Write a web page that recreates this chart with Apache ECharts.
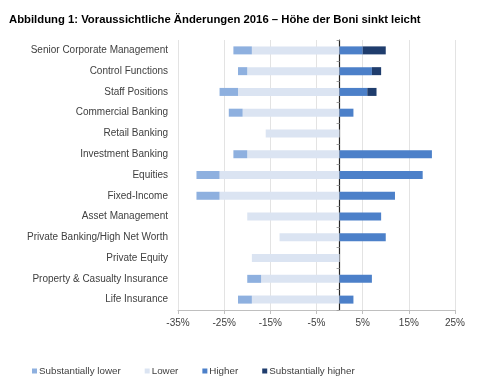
<!DOCTYPE html>
<html>
<head>
<meta charset="utf-8">
<script src="https://cdn.jsdelivr.net/npm/echarts@6/dist/echarts.min.js"></script>
<style>html,body{margin:0;padding:0;background:#fff}#c{width:500px;height:388px}</style>
</head>
<body>
<div id="c"></div>
<script>
var titleText = 'Abbildung 1: Voraussichtliche Änderungen 2016 – Höhe der Boni sinkt leicht';
var categories = ['Senior Corporate Management','Control Functions','Staff Positions','Commercial Banking','Retail Banking','Investment Banking','Equities','Fixed-Income','Asset Management','Private Banking/High Net Worth','Private Equity','Property & Casualty Insurance','Life Insurance'];
var substantiallyLower = [-4,-2,-4,-3,0,-3,-5,-5,0,0,0,-3,-3];
var lower = [-19,-20,-22,-21,-16,-20,-26,-26,-20,-13,-19,-17,-19];
var higher = [5,7,6,3,0,20,18,12,9,10,0,7,3];
var substantiallyHigher = [5,2,2,0,0,0,0,0,0,0,0,0,0];
var legendNames = ['Substantially lower','Lower','Higher','Substantially higher'];
var xMin = -35, xMax = 25, xStep = 10;

var font = 'Liberation Sans, Arial, sans-serif';
var chart = echarts.init(document.getElementById('c'), null, {renderer:'canvas'});
function bar(name, data, color){
  return {name:name, type:'bar', stack:'all', data:data, barWidth:8,
    itemStyle:{color:color}, yAxisIndex:0, animation:false};
}
chart.setOption({
  backgroundColor:'#fff',
  animation:false,
  title:{text:titleText, left:4, top:9, textStyle:{fontFamily:font, fontSize:11.3, fontWeight:'bold', color:'#000'}},
  legend:{data:legendNames, left:27, top:361, itemWidth:5, itemHeight:5, itemGap:24,
    icon:'rect', textStyle:{fontFamily:font, fontSize:9.8, color:'#404040', padding:[0,0,0,-3]}},
  grid:{left:178, right:45, top:40, bottom:78, containLabel:false},
  xAxis:{type:'value', min:xMin, max:xMax, interval:xStep,
    axisLabel:{formatter:'{value}%', fontFamily:font, fontSize:10, color:'#404040', margin:8},
    axisLine:{show:true, lineStyle:{color:'#bfbfbf'}},
    axisTick:{show:true, length:4, lineStyle:{color:'#bfbfbf'}},
    splitLine:{show:true, lineStyle:{color:'#e3e3e3'}}},
  yAxis:[
    {type:'category', data:categories, inverse:true, position:'left',
     axisLine:{show:false, onZero:false}, axisTick:{show:false},
     axisLabel:{fontFamily:font, fontSize:10, color:'#404040', margin:10}},
    {type:'category', data:categories, inverse:true, position:'left',
     axisLine:{show:true, onZero:true, lineStyle:{color:'#262626', width:1.2}},
     axisTick:{show:true, length:3, lineStyle:{color:'#a0a0a0'}},
     axisLabel:{show:false}}
  ],
  series:[
    bar('Lower', lower, '#dbe4f2'),
    bar('Substantially lower', substantiallyLower, '#8eb0df'),
    bar('Higher', higher, '#4c80c9'),
    bar('Substantially higher', substantiallyHigher, '#1f3d6d')
  ]
});
</script>
</body>
</html>
